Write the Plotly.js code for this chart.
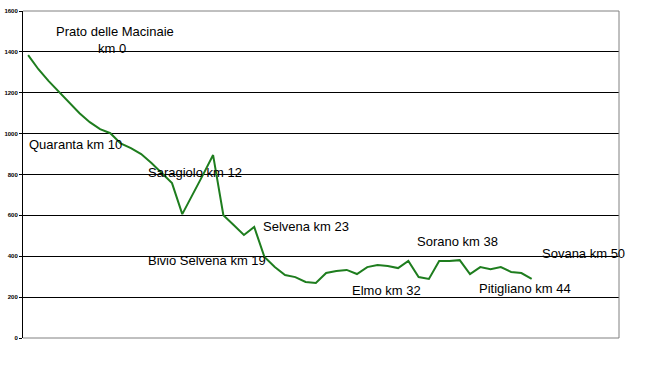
<!DOCTYPE html>
<html>
<head>
<meta charset="utf-8">
<script src="https://cdn.plot.ly/plotly-3.0.1.min.js"></script>
<style>
  html, body { margin: 0; padding: 0; background: #fff; }
  #chart { width: 665px; height: 391px; }
</style>
</head>
<body>
<div id="chart"></div>
<script>
// Elevation profile, one sample per km step (metres above sea level)
const stepIndex = [
  0, 1, 2, 3, 4, 5, 6, 7, 8, 9,
  10, 11, 12, 13, 14, 15, 16, 17, 18, 19,
  20, 21, 22, 23, 24, 25, 26, 27, 28, 29,
  30, 31, 32, 33, 34, 35, 36, 37, 38, 39,
  40, 41, 42, 43, 44, 45, 46, 47, 48, 49
];
const elevation = [
  1384, 1315, 1257, 1203, 1149, 1100, 1056, 1022, 1002, 952,
  929, 900, 856, 807, 758, 606, 699, 797, 895, 601,
  553, 504, 543, 396, 347, 308, 298, 274, 269, 318,
  328, 333, 313, 347, 357, 352, 342, 377, 298, 289,
  377, 377, 381, 313, 347, 337, 347, 323, 318, 289
];

// Axis ticks
const yTickVals = [0, 200, 400, 600, 800, 1000, 1200, 1400, 1600];
const yTickText = ["0", "200", "400", "600", "800", "1000", "1200", "1400", "1600"];

// Place names along the route
const placeNames = [
  "Prato delle Macinaie", "km 0", "Quaranta km 10", "Saragiolo km 12",
  "Bivio Selvena km 19", "Selvena km 23", "Elmo km 32", "Sorano km 38",
  "Pitigliano km 44", "Sovana km 50"
];

const W = 665, H = 391;
const M = { l: 23, r: 46, t: 11, b: 53 };
const pw = W - M.l - M.r, ph = H - M.t - M.b;
const px = x => (x - M.l) / pw;
const py = y => (H - M.b - y) / ph;

// label anchor points on the page: [x, y, xanchor]
const labelPos = [
  [115, 32, "center"], [112, 48, "center"], [28, 144, "left"], [147, 172, "left"],
  [147, 260, "left"], [262, 226, "left"], [351, 290, "left"], [416, 241, "left"],
  [478, 288, "left"], [541, 253, "left"]
];

const annotations = placeNames.map((t, i) => ({
  text: t,
  xref: "paper", yref: "paper",
  x: px(labelPos[i][0]), y: py(labelPos[i][1]),
  xanchor: labelPos[i][2], yanchor: "middle",
  showarrow: false,
  borderpad: 0,
  font: { family: "Liberation Sans, Arial, sans-serif", size: 13, color: "#000" }
}));

const frameColor = "#808080";
const shapes = [
  { type: "line", xref: "paper", yref: "paper", x0: 0, x1: 1, y0: 1, y1: 1, layer: "above",
    line: { color: frameColor, width: 1 } },
  { type: "line", xref: "paper", yref: "paper", x0: 1, x1: 1, y0: 0, y1: 1, layer: "above",
    line: { color: frameColor, width: 1 } },
  { type: "line", xref: "paper", yref: "paper", x0: 0, x1: 1, y0: 0, y1: 0, layer: "above",
    line: { color: frameColor, width: 1 } }
];

const trace = {
  x: stepIndex,
  y: elevation,
  type: "scatter",
  mode: "lines",
  line: { color: "#1e7d1e", width: 2 },
  hoverinfo: "skip"
};

const layout = {
  width: W, height: H,
  margin: M,
  paper_bgcolor: "#fff",
  plot_bgcolor: "#fff",
  showlegend: false,
  xaxis: {
    range: [-0.5, 57.5],
    showgrid: false, zeroline: false, showticklabels: false,
    showline: false, ticks: ""
  },
  yaxis: {
    range: [0, 1600],
    tickvals: yTickVals, ticktext: yTickText,
    showgrid: true, gridcolor: "#000", gridwidth: 1,
    zeroline: false,
    showline: true, linecolor: "#000", linewidth: 1,
    ticks: "outside", ticklen: 3, tickcolor: "#000",
    tickfont: { family: "Liberation Sans, Arial, sans-serif", size: 6, color: "#000", weight: "bold" }
  },
  annotations: annotations,
  shapes: shapes
};

Plotly.newPlot("chart", [trace], layout, { staticPlot: true, displayModeBar: false });
</script>
</body>
</html>
